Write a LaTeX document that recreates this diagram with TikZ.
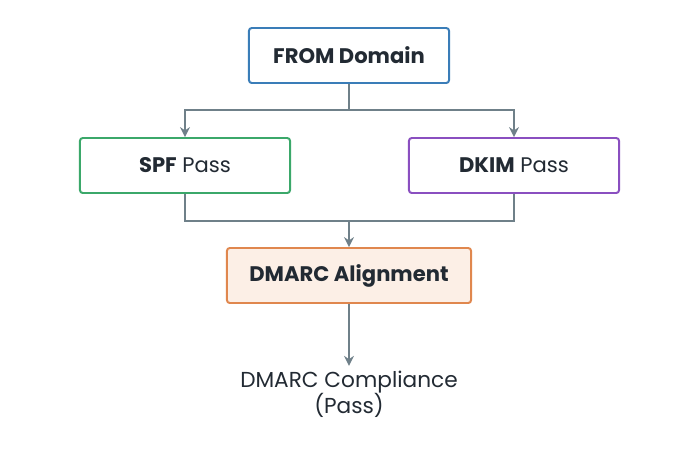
\documentclass[tikz,border=0pt]{standalone}
\usepackage{fontspec}
\setmainfont{Poppins}
\usetikzlibrary{arrows.meta}
\definecolor{lineGray}{HTML}{6F8089}
\definecolor{boxBlue}{HTML}{3A7DB8}
\definecolor{boxGreen}{HTML}{3BA86A}
\definecolor{boxPurple}{HTML}{8A4FC0}
\definecolor{boxOrange}{HTML}{E0874E}
\definecolor{fillOrange}{HTML}{FCEFE6}
\definecolor{txt}{HTML}{222A33}

\begin{document}
\begin{tikzpicture}[x=0.025cm, y=-0.025cm,
	box/.style={draw, line width=1.4pt, rounded corners=2pt, fill=white, text=txt, font=\fontsize{15}{17}\selectfont, minimum height=1.375cm},
	link/.style={lineGray, line width=1.3pt},
	arr/.style={link, -{Stealth[length=7pt,width=7pt]}}]

	\useasboundingbox (0,0) rectangle (700,450);

	\node[box, draw=boxBlue, minimum width=5cm] (from) at (349,55.5) {\textbf{FROM Domain}};
	\node[box, draw=boxGreen, minimum width=5.25cm] (spf) at (185,165.5) {\textbf{SPF} Pass};
	\node[box, draw=boxPurple, minimum width=5.25cm] (dkim) at (514,165.5) {\textbf{DKIM} Pass};
	\node[box, draw=boxOrange, fill=fillOrange, minimum width=6.1cm] (align) at (349,275.5) {\textbf{DMARC Alignment}};
	\node[text=txt, font=\fontsize{15.4}{18.5}\selectfont, align=center] (result) at (349,394) {DMARC Compliance\\(Pass)};

	\coordinate (split) at (349,110);
	\coordinate (join) at (349,221);

	\draw[link] (from) -- (split);
	\draw[arr] (split) -| (spf);
	\draw[arr] (split) -| (dkim);
	\draw[link] (spf) |- (join);
	\draw[link] (dkim) |- (join);
	\draw[arr] (join) -- (align);
	\draw[arr] (align) -- (result);

\end{tikzpicture}
\end{document}
